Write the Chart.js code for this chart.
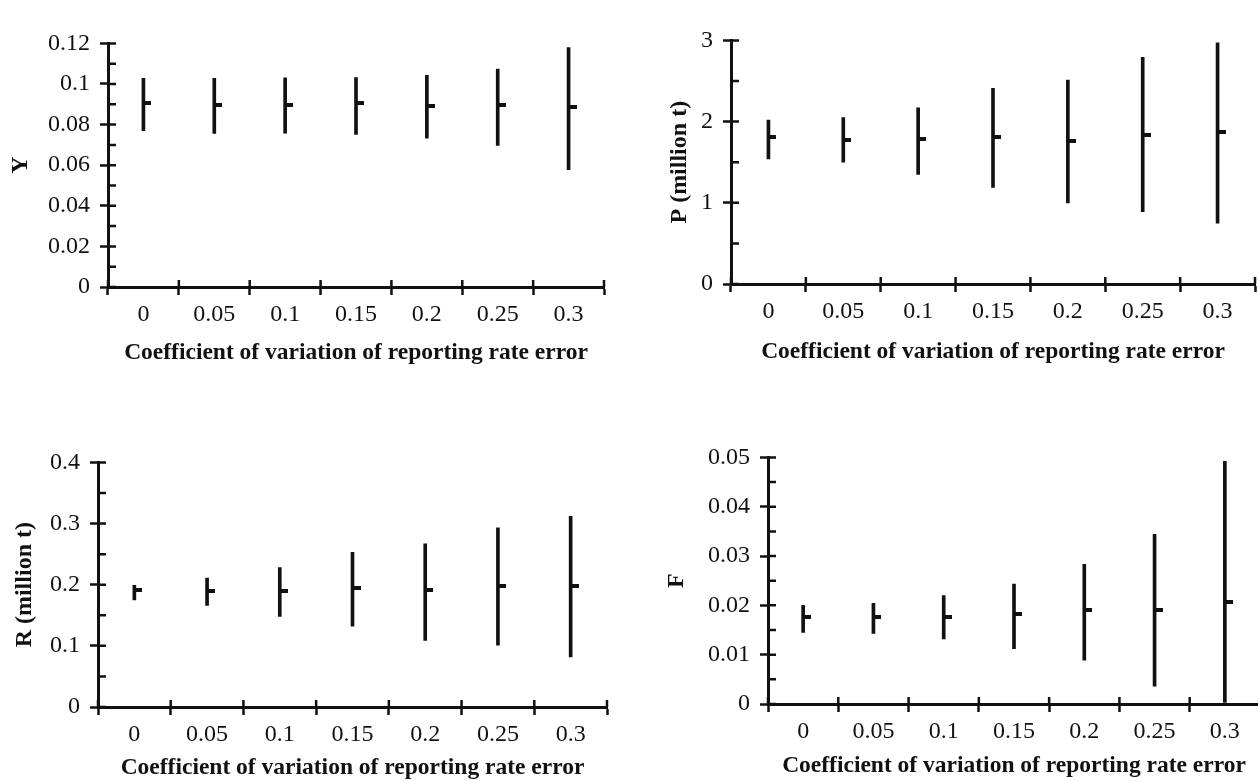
<!DOCTYPE html>
<html>
<head>
<meta charset="utf-8">
<title>Reporting rate error</title>
<script src="https://cdn.jsdelivr.net/npm/chart.js@4.4.1/dist/chart.umd.min.js"></script>
<style>
  html, body { margin: 0; padding: 0; background: #fff; overflow: hidden; width: 1258px; height: 781px; }
  .panel { position: absolute; }
</style>
</head>
<body>
<div class="panel" style="left:6px;top:19px;width:605px;height:348px"><canvas id="chart-y"></canvas></div>
<div class="panel" style="left:665px;top:16px;width:597px;height:350px"><canvas id="chart-p"></canvas></div>
<div class="panel" style="left:10px;top:438px;width:604px;height:344px"><canvas id="chart-r"></canvas></div>
<div class="panel" style="left:662px;top:433px;width:605px;height:347px"><canvas id="chart-f"></canvas></div>
<script>
var categories = ['0', '0.05', '0.1', '0.15', '0.2', '0.25', '0.3'];

// Y
var yLow  = [0.0770, 0.0757, 0.0758, 0.0752, 0.0733, 0.0697, 0.0578];
var yHigh = [0.1028, 0.1028, 0.1030, 0.1032, 0.1043, 0.1074, 0.1180];
var yMean = [0.0907, 0.0898, 0.0899, 0.0904, 0.0891, 0.0897, 0.0886];

// P (million t)
var pLow  = [1.54, 1.50, 1.35, 1.19, 1.00, 0.89, 0.75];
var pHigh = [2.02, 2.05, 2.17, 2.41, 2.51, 2.79, 2.97];
var pMean = [1.81, 1.775, 1.785, 1.81, 1.765, 1.84, 1.87];

// R (million t)
var rLow  = [0.175, 0.166, 0.148, 0.132, 0.109, 0.101, 0.082];
var rHigh = [0.199, 0.211, 0.228, 0.253, 0.267, 0.293, 0.312];
var rMean = [0.191, 0.189, 0.190, 0.194, 0.191, 0.198, 0.198];

// F
var fLow  = [0.0145, 0.0143, 0.0132, 0.0112, 0.0089, 0.0036, 0.0003];
var fHigh = [0.0200, 0.0204, 0.0220, 0.0243, 0.0283, 0.0344, 0.0492];
var fMean = [0.0176, 0.0176, 0.0177, 0.0183, 0.0190, 0.0191, 0.0207];

var INK = '#111';
var FONT = "'Liberation Serif', 'DejaVu Serif', serif";

// small mark to the right of each range line, drawn at the mean
var meanMark = document.createElement('canvas');
meanMark.width = 16;
meanMark.height = 4;
var mctx = meanMark.getContext('2d');
mctx.fillStyle = INK;
mctx.fillRect(8, 0, 8, 4);

// tick halves that point into the plot
var innerTicks = {
    id: 'innerTicks',
    afterDraw: function (chart) {
        var ctx = chart.ctx;
        var x = chart.scales.x;
        var y = chart.scales.y;
        var step = (x.right - x.left) / categories.length;
        ctx.save();
        ctx.strokeStyle = INK;
        ctx.lineWidth = 2.5;
        ctx.beginPath();
        for (var i = 0; i <= categories.length; i++) {
            var px = x.left + i * step;
            ctx.moveTo(px, x.top);
            ctx.lineTo(px, x.top - 7);
        }
        y.ticks.forEach(function (t) {
            var py = y.getPixelForValue(t.value);
            ctx.moveTo(y.right, py);
            ctx.lineTo(y.right + 8, py);
        });
        ctx.stroke();
        ctx.restore();
    }
};

var isMajor = function (v, major) {
    var q = v / major;
    return Math.abs(q - Math.round(q)) < 1e-6;
};

var makeChart = function (id, low, high, mean, opts) {
    return new Chart(id, {
        type: 'bar',
        data: {
            labels: categories,
            datasets: [{
                data: low.map(function (v, i) { return [v, high[i]]; }),
                backgroundColor: INK,
                barThickness: 3,
                borderWidth: 0
            }, {
                type: 'line',
                data: mean,
                showLine: false,
                pointStyle: meanMark,
                pointRadius: 6
            }]
        },
        options: {
            responsive: true,
            maintainAspectRatio: false,
            animation: false,
            layout: { padding: { top: 14, right: 6, left: 0, bottom: 0 } },
            plugins: { legend: { display: false }, tooltip: { enabled: false } },
            scales: {
                x: {
                    offset: true,
                    afterFit: function (s) { s.height = opts.xHeight; },
                    border: { display: true, color: INK, width: 3 },
                    grid: { offset: true, drawOnChartArea: false, tickLength: 8, tickWidth: 2.5, tickColor: INK },
                    ticks: { color: INK, padding: 5, autoSkip: false, maxRotation: 0, font: { family: FONT, size: 24 } },
                    title: {
                        display: true,
                        text: 'Coefficient of variation of reporting rate error',
                        color: INK,
                        padding: { top: 0, bottom: 0 },
                        font: { family: FONT, size: 23.5, weight: 'bold' }
                    }
                },
                y: {
                    min: 0,
                    max: opts.max,
                    afterFit: function (s) { s.width = opts.yWidth; },
                    border: { display: true, color: INK, width: 3 },
                    grid: {
                        drawOnChartArea: false,
                        tickLength: 8,
                        tickWidth: 2.5,
                        tickColor: function (c) {
                            return c.tick && isMajor(c.tick.value, opts.major) ? INK : 'rgba(0,0,0,0)';
                        }
                    },
                    ticks: {
                        stepSize: opts.minor,
                        autoSkip: false,
                        padding: 10,
                        color: INK,
                        font: { family: FONT, size: 24 },
                        callback: function (v) {
                            return isMajor(v, opts.major) ? String(Math.round(v * 1000) / 1000) : '';
                        }
                    },
                    title: {
                        display: true,
                        text: opts.title,
                        color: INK,
                        padding: { top: 0, bottom: 0 },
                        font: { family: FONT, size: 24, weight: 'bold' }
                    }
                }
            }
        },
        plugins: [innerTicks]
    });
};

makeChart('chart-y', yLow, yHigh, yMean, { title: 'Y', max: 0.12, major: 0.02, minor: 0.01, yWidth: 102, xHeight: 80 });
makeChart('chart-p', pLow, pHigh, pMean, { title: 'P (million t)', max: 3, major: 1, minor: 0.5, yWidth: 66, xHeight: 82 });
makeChart('chart-r', rLow, rHigh, rMean, { title: 'R (million t)', max: 0.4, major: 0.1, minor: 0.05, yWidth: 88, xHeight: 75 });
makeChart('chart-f', fLow, fHigh, fMean, { title: 'F', max: 0.05, major: 0.01, minor: 0.005, yWidth: 106, xHeight: 76 });
</script>
</body>
</html>
